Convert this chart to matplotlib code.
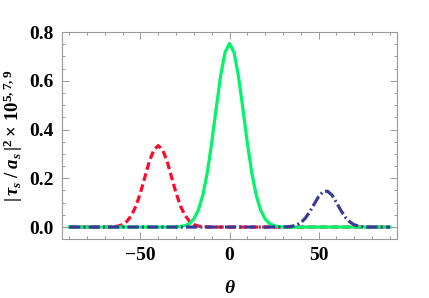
import numpy as np
import matplotlib
matplotlib.use("Agg")
import matplotlib.pyplot as plt
from matplotlib.ticker import MultipleLocator

plt.rcParams["font.family"] = ["Liberation Serif", "DejaVu Serif"]
plt.rcParams["mathtext.fontset"] = "custom"
plt.rcParams["mathtext.rm"] = "Liberation Serif:bold"
plt.rcParams["mathtext.it"] = "Liberation Serif:italic:bold"
plt.rcParams["mathtext.bf"] = "Liberation Serif:bold"

# angle grid (degrees), step 2.5
theta = np.linspace(-90, 90, 73)

# |tau_s / a_s|^2 x 10^5 (red), 10^7 (green), 10^9 (blue)
red = [0, 0, 0, 0, 0, 0, 0, 0, 0, 0.0005,
       0.0015, 0.004, 0.010, 0.024, 0.048, 0.086, 0.140, 0.205, 0.269, 0.316,
       0.334, 0.316, 0.269, 0.205, 0.140, 0.086, 0.048, 0.024, 0.010, 0.004,
       0.0015, 0.0005, 0, 0, 0, 0, 0, 0, 0, 0,
       0, 0, 0, 0, 0, 0, 0, 0, 0, 0,
       0, 0, 0, 0, 0, 0, 0, 0, 0, 0,
       0, 0, 0, 0, 0, 0, 0, 0, 0, 0,
       0, 0, 0]
green = [0, 0, 0, 0, 0, 0, 0, 0, 0, 0,
         0, 0, 0, 0, 0, 0, 0, 0, 0, 0,
         0, 0, 0, 0, 0.0005, 0.002, 0.006, 0.014, 0.033, 0.069,
         0.130, 0.222, 0.345, 0.485, 0.620, 0.717, 0.753, 0.717, 0.620, 0.485,
         0.345, 0.222, 0.130, 0.069, 0.033, 0.014, 0.006, 0.002, 0.0005, 0,
         0, 0, 0, 0, 0, 0, 0, 0, 0, 0,
         0, 0, 0, 0, 0, 0, 0, 0, 0, 0,
         0, 0, 0]
blue = [0, 0, 0, 0, 0, 0, 0, 0, 0, 0,
        0, 0, 0, 0, 0, 0, 0, 0, 0, 0,
        0, 0, 0, 0, 0, 0, 0, 0, 0, 0,
        0, 0, 0, 0, 0, 0, 0, 0, 0, 0,
        0, 0, 0, 0, 0, 0, 0, 0, 0, 0.001,
        0.003, 0.008, 0.018, 0.036, 0.062, 0.094, 0.125, 0.145, 0.147, 0.131,
        0.101, 0.068, 0.040, 0.021, 0.009, 0.004, 0.001, 0, 0, 0,
        0, 0, 0]

fig = plt.figure(figsize=(4.29, 2.98), dpi=100)
ax = fig.add_axes([0.1445, 0.198, 0.781, 0.6946])

ax.plot(theta, red, color="#ff0a2a", lw=2.3, dashes=(2.4, 1.2))
ax.plot(theta, green, color="#00f56a", lw=2.3)
ax.plot(theta, blue, color="#3a3a96", lw=2.3, dashes=(3.5, 1.0, 0.6, 1.0))

ax.set_xlim(-94, 94)
ax.set_ylim(-0.049, 0.8)

ax.xaxis.set_minor_locator(MultipleLocator(10))
ax.yaxis.set_minor_locator(MultipleLocator(0.05))
ax.set_yticks([0.0, 0.2, 0.4, 0.6, 0.8])
ax.set_yticklabels(["0.0", "0.2", "0.4", "0.6", "0.8"])
ax.set_xticks([-50, 0, 50])
ax.set_xticklabels(["\u221250", "0", "50"])

for s in ax.spines.values():
    s.set_color("#999999")
    s.set_linewidth(0.8)
ax.tick_params(which="both", direction="in", top=True, right=True,
               color="#999999", width=0.7)
ax.tick_params(which="major", length=5, labelsize=14, pad=6)
ax.tick_params(which="minor", length=2.5)
for lab in ax.get_xticklabels() + ax.get_yticklabels():
    lab.set_fontweight("bold")

ax.set_xlabel(r"$\theta$", fontsize=14, labelpad=11)
ax.set_ylabel(r"$|\,\tau_s\;/\;a_s\,|^2\times\,10^{5,7,9}$", fontsize=13.5, labelpad=3)

fig.savefig("out.png", dpi=100)
